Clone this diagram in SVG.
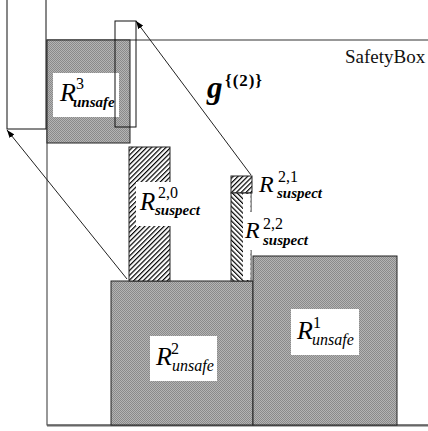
<svg xmlns="http://www.w3.org/2000/svg" width="428" height="431" viewBox="0 0 428 431">
<defs>
<style>
.box{stroke:#222;stroke-width:1}
.open{fill:none;stroke:#111;stroke-width:1}
.lbl{fill:#fff;stroke:none}
.ser{font-family:'Liberation Serif','Times New Roman','DejaVu Serif',serif}
.R{font-style:italic;fill:#000}
.sup{fill:#000}
.subb{font-style:italic;font-weight:bold;fill:#000}
.conn{stroke:#222;stroke-width:1;fill:none;marker-end:url(#ah)}
</style>
<pattern id="gray" width="2" height="2" patternUnits="userSpaceOnUse">
<rect width="2" height="2" fill="#b4b4b4"/>
<rect width="1" height="1" fill="#8a8a8a"/>
<rect x="1" y="1" width="1" height="1" fill="#8a8a8a"/>
</pattern>
<pattern id="hatchF" width="3.4" height="3.4" patternUnits="userSpaceOnUse" patternTransform="rotate(45)">
<rect width="3.4" height="3.4" fill="#fff"/>
<line x1="0.6" y1="0" x2="0.6" y2="3.4" stroke="#000" stroke-width="1.2"/>
</pattern>
<pattern id="hatchB" width="3.4" height="3.4" patternUnits="userSpaceOnUse" patternTransform="rotate(-45)">
<rect width="3.4" height="3.4" fill="#fff"/>
<line x1="0.6" y1="0" x2="0.6" y2="3.4" stroke="#000" stroke-width="1.2"/>
</pattern>
<marker id="ah" markerWidth="8" markerHeight="6" refX="8" refY="3" orient="auto" markerUnits="userSpaceOnUse">
<path d="M0,0 L8,3 L0,6 z" fill="#000"/>
</marker>
</defs>
<rect width="428" height="431" fill="#fff"/>

<g id="safetybox">
<rect x="47" y="40" width="400" height="385" fill="none" stroke="#333" stroke-width="1"/>
<line x1="47" y1="425.5" x2="428" y2="425.5" stroke="#666" stroke-width="2"/>
<text class="ser" x="345" y="63" font-size="19" fill="#111">SafetyBox</text>
</g>

<g id="left-rect">
<rect x="7" y="-2" width="39" height="131" class="open" fill="#fff"/>
</g>

<g id="R3">
<rect x="47" y="40" width="83" height="103" fill="url(#gray)" class="box"/>
<rect x="53" y="73" width="66" height="44" class="lbl"/>
<text class="ser R" x="60" y="101" font-size="26">R</text>
<text class="ser sup" x="76" y="89" font-size="16">3</text>
<text class="ser subb" x="73" y="107" font-size="15">unsafe</text>
</g>

<g id="narrow-rect">
<rect x="115" y="21" width="21" height="106" class="open"/>
</g>

<g id="R2">
<rect x="111" y="281" width="142" height="144" fill="url(#gray)" class="box"/>
<rect x="150" y="336" width="67" height="45" class="lbl"/>
<text class="ser R" x="156" y="365" font-size="26">R</text>
<text class="ser sup" x="171" y="354" font-size="16">2</text>
<text class="ser R" x="172" y="371" font-size="16">unsafe</text>
</g>

<g id="R1">
<rect x="253" y="256" width="144" height="169" fill="url(#gray)" class="box"/>
<rect x="291" y="309" width="68" height="46" class="lbl"/>
<text class="ser R" x="297" y="339" font-size="26">R</text>
<text class="ser sup" x="313" y="328" font-size="16">1</text>
<text class="ser R" x="312" y="345" font-size="16">unsafe</text>
</g>

<g id="R20">
<rect x="129" y="147" width="41" height="134" fill="url(#hatchF)" class="box"/>
<rect x="136" y="182" width="68" height="44" class="lbl"/>
<text class="ser R" x="140" y="210" font-size="25">R</text>
<text class="ser sup" x="158" y="198" font-size="16">2,0</text>
<text class="ser subb" x="155" y="215" font-size="15">suspect</text>
</g>

<g id="R21">
<rect x="231" y="176" width="21" height="17" fill="url(#hatchF)" class="box"/>
<text class="ser R" x="259" y="192" font-size="24">R</text>
<text class="ser sup" x="278" y="182" font-size="16">2,1</text>
<text class="ser subb" x="277" y="198" font-size="15">suspect</text>
</g>

<g id="R22">
<rect x="231" y="193" width="20" height="88" fill="url(#hatchB)" class="box"/>
<rect x="243" y="194" width="7.5" height="86" class="lbl"/>
<rect x="243" y="212" width="66" height="38" class="lbl"/>
<text class="ser R" x="245" y="238" font-size="24">R</text>
<text class="ser sup" x="263" y="229" font-size="16">2,2</text>
<text class="ser subb" x="263" y="245" font-size="15">suspect</text>
</g>

<g id="connectors">
<line x1="127" y1="279" x2="7" y2="130" class="conn"/>
<line x1="251" y1="175" x2="136" y2="21" class="conn"/>
</g>

<g id="g2-label">
<text class="ser" x="207" y="98" font-size="31" font-style="italic" font-weight="bold" fill="#000">g</text>
<text class="ser" x="225" y="86" font-size="17" font-weight="bold" fill="#000" textLength="37">{(2)}</text>
</g>
</svg>
